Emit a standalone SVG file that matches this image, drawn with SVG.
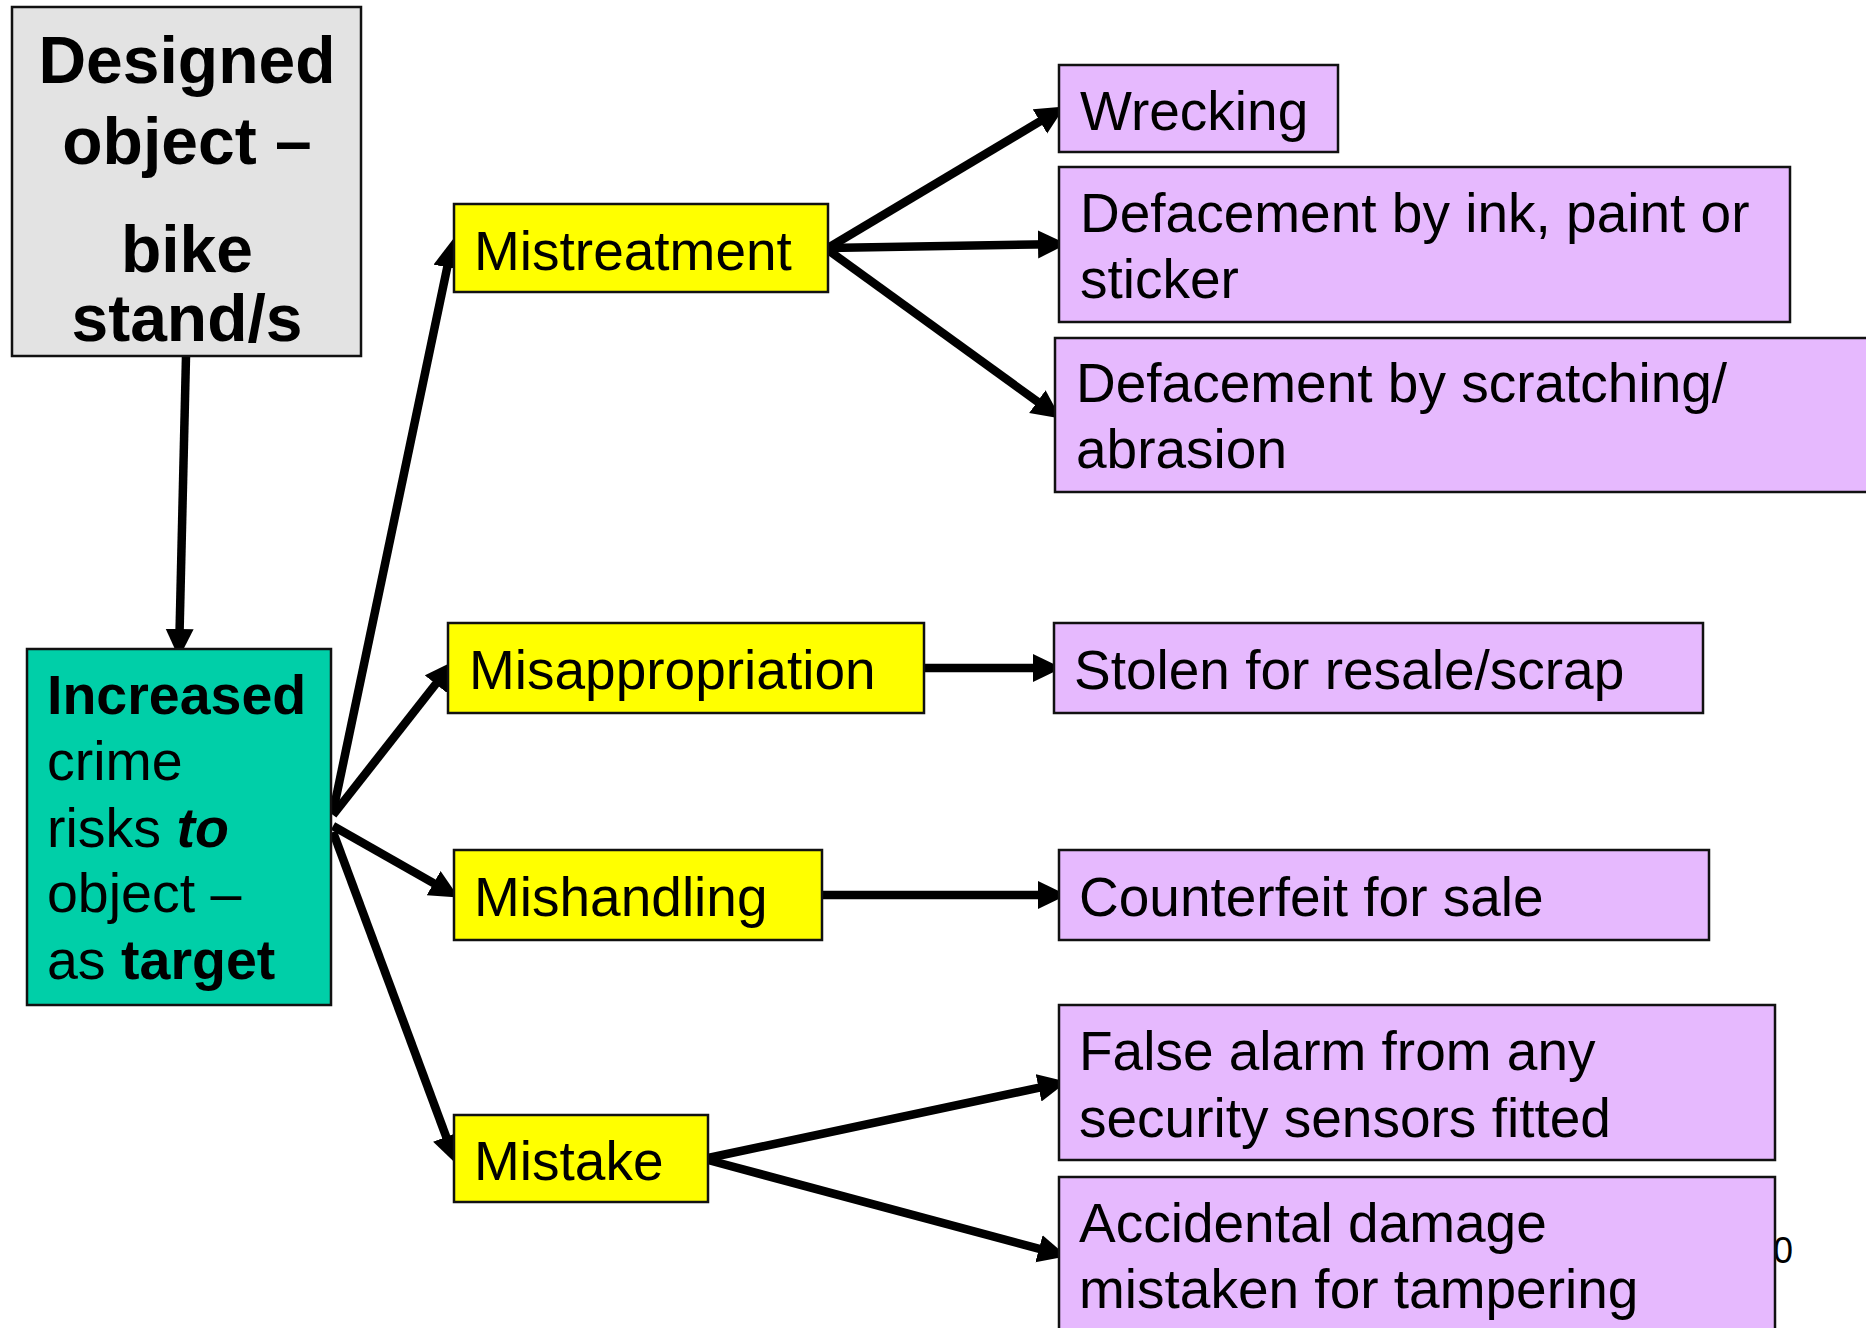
<svg xmlns="http://www.w3.org/2000/svg" width="1866" height="1328" viewBox="0 0 1866 1328">
  <style>
    text { font-family: "Liberation Sans", Arial, sans-serif; fill: #000; }
    .box { stroke: #111; stroke-width: 2.5; }
    .grey { fill: #E3E3E3; }
    .teal { fill: #00CFA8; }
    .yellow { fill: #FFFF00; }
    .lilac { fill: #E6B9FE; }
    .title { font-size: 66px; font-weight: bold; text-anchor: middle; }
    .risk { font-size: 55.5px; }
    .cat { font-size: 55px; }
    .item { font-size: 55px; }
    .b { font-weight: bold; }
    .bi { font-weight: bold; font-style: italic; }
    .conn { stroke: #000; stroke-width: 8.5; fill: none; marker-end: url(#arrow); }
  </style>
  <defs>
    <marker id="arrow" markerUnits="userSpaceOnUse" markerWidth="32" markerHeight="30" refX="14" refY="14" orient="auto">
      <path d="M0,0 L29,14 L0,28 Z" fill="#000"/>
    </marker>
  </defs>

  <rect width="1866" height="1328" fill="#fff"/>

  <!-- page number, partly hidden behind the last box -->
  <text x="1793" y="1263" font-size="36" text-anchor="end">0</text>

  <!-- connectors -->
  <g id="connectors">
    <line class="conn" x1="186" y1="356" x2="179.3" y2="643"/>
    <line class="conn" x1="333" y1="812" x2="450.1" y2="253.7"/>
    <line class="conn" x1="333" y1="815" x2="444.4" y2="673"/>
    <line class="conn" x1="333" y1="826" x2="445.8" y2="890.1"/>
    <line class="conn" x1="333" y1="832" x2="451.1" y2="1149.9"/>
    <line class="conn" x1="828" y1="248" x2="1052" y2="114.2"/>
    <line class="conn" x1="828" y1="248" x2="1052" y2="244.2"/>
    <line class="conn" x1="828" y1="250" x2="1048.7" y2="409.8"/>
    <line class="conn" x1="924" y1="668" x2="1047" y2="668"/>
    <line class="conn" x1="822" y1="895" x2="1052" y2="895"/>
    <line class="conn" x1="708" y1="1158" x2="1052.3" y2="1084.9"/>
    <line class="conn" x1="708" y1="1160" x2="1052.5" y2="1252.4"/>
  </g>

  <!-- source object -->
  <g id="designed-object">
    <rect class="box grey" x="12" y="7" width="349" height="349"/>
    <text class="title" x="187" y="83">Designed</text>
    <text class="title" x="187" y="164">object –</text>
    <text class="title" x="187" y="272">bike</text>
    <text class="title" x="187" y="341">stand/s</text>
  </g>

  <g id="crime-risks">
    <rect class="box teal" x="27" y="649" width="304" height="356"/>
    <text class="risk b" x="47" y="714">Increased</text>
    <text class="risk" x="47" y="780">crime</text>
    <text class="risk" x="47" y="847">risks <tspan class="bi">to</tspan></text>
    <text class="risk" x="47" y="912">object –</text>
    <text class="risk" x="47" y="979">as <tspan class="b">target</tspan></text>
  </g>

  <!-- categories -->
  <g id="mistreatment">
    <rect class="box yellow" x="454" y="204" width="374" height="88"/>
    <text class="cat" x="474" y="270">Mistreatment</text>
  </g>
  <g id="misappropriation">
    <rect class="box yellow" x="448" y="623" width="476" height="90"/>
    <text class="cat" x="469" y="689">Misappropriation</text>
  </g>
  <g id="mishandling">
    <rect class="box yellow" x="454" y="850" width="368" height="90"/>
    <text class="cat" x="474" y="916">Mishandling</text>
  </g>
  <g id="mistake">
    <rect class="box yellow" x="454" y="1115" width="254" height="87"/>
    <text class="cat" x="474" y="1180">Mistake</text>
  </g>

  <!-- outcomes -->
  <g id="wrecking">
    <rect class="box lilac" x="1059" y="65" width="279" height="87"/>
    <text class="item" x="1080" y="130">Wrecking</text>
  </g>
  <g id="defacement-ink">
    <rect class="box lilac" x="1059" y="167" width="731" height="155"/>
    <text class="item" x="1080" y="232">Defacement by ink, paint or</text>
    <text class="item" x="1080" y="298">sticker</text>
  </g>
  <g id="defacement-scratch">
    <rect class="box lilac" x="1055" y="338" width="830" height="154"/>
    <text class="item" x="1076" y="402">Defacement by scratching/</text>
    <text class="item" x="1076" y="468">abrasion</text>
  </g>
  <g id="stolen">
    <rect class="box lilac" x="1054" y="623" width="649" height="90"/>
    <text class="item" x="1074" y="689">Stolen for resale/scrap</text>
  </g>
  <g id="counterfeit">
    <rect class="box lilac" x="1059" y="850" width="650" height="90"/>
    <text class="item" x="1079" y="916">Counterfeit for sale</text>
  </g>
  <g id="false-alarm">
    <rect class="box lilac" x="1059" y="1005" width="716" height="155"/>
    <text class="item" x="1079" y="1070">False alarm from any</text>
    <text class="item" x="1079" y="1137">security sensors fitted</text>
  </g>
  <g id="accidental-damage">
    <rect class="box lilac" x="1059" y="1177" width="716" height="170"/>
    <text class="item" x="1079" y="1242">Accidental damage</text>
    <text class="item" x="1079" y="1308">mistaken for tampering</text>
  </g>
</svg>
